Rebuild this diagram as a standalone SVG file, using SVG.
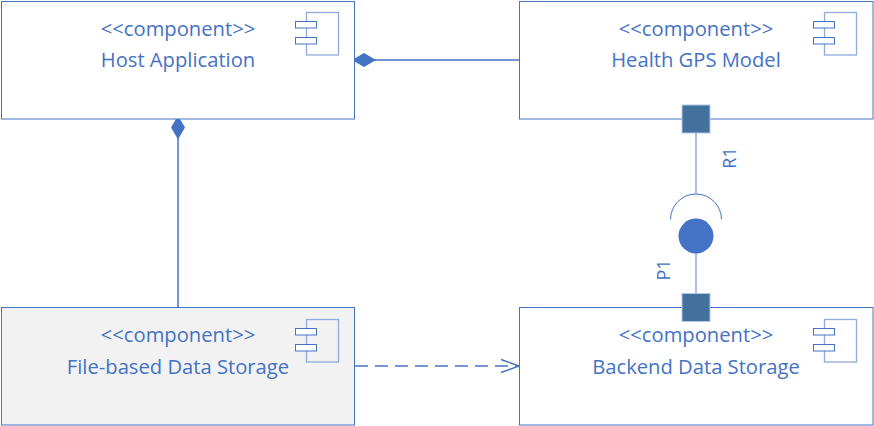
<svg xmlns="http://www.w3.org/2000/svg" width="874" height="426" viewBox="0 0 874 426">
<style>
text{font-family:"Open Sans","Noto Sans","Liberation Sans",sans-serif;font-size:20.2px;fill:#4472c4;text-anchor:middle}
.box{fill:#fff;stroke:#4472c4;stroke-width:1}
.gray{fill:#f2f2f2}
.icon{fill:none;stroke:#8faadc;stroke-width:1.3}
.tab{fill:#fff;stroke:#4472c4;stroke-width:1}
.line{fill:none;stroke:#4472c4;stroke-width:1.5}
.thin{fill:none;stroke:#8faadc;stroke-width:1.5}
.port{fill:#41719c;stroke:#b4c7e7;stroke-width:1}
.small{font-size:18px}
</style>
<defs>
<g id="icon">
<rect class="icon" x="306.5" y="12.5" width="32" height="42.5"/>
<rect class="tab" x="295.5" y="21.5" width="21" height="6.5"/>
<rect class="tab" x="295.5" y="37.5" width="21" height="6.5"/>
</g>
</defs>
<g id="connectors">
<path class="line" d="M373 60H519.5"/>
<polygon points="352,60 364,53 376,60 364,67" fill="#4472c4"/>
<path class="line" d="M178 138V307"/>
<polygon points="178,115.500 185,127.500 178,139.500 171,127.500" fill="#4472c4"/>
<path class="line" stroke-dasharray="13 7" d="M355 366H517"/>
<path class="line" d="M501 359.500L519 366L501 372.500"/>
<path class="thin" d="M696 132V193.500"/>
<path class="thin" d="M696 253V294"/>
<path fill="none" stroke="#4472c4" stroke-width="1" d="M670.500 219.500A25.500 25.500 0 0 1 721.500 219.500"/>
</g>
<g id="host-application">
<rect class="box" x="1.500" y="1.500" width="353" height="117.500"/>
<use href="#icon"/>
<text x="178" y="35.500">&lt;&lt;component&gt;&gt;</text>
<text x="178" y="66.500">Host Application</text>
</g>
<g id="health-gps-model">
<rect class="box" x="519.500" y="1.500" width="353.500" height="117.500"/>
<use href="#icon" x="518"/>
<text x="696" y="35.500">&lt;&lt;component&gt;&gt;</text>
<text x="696" y="66.500">Health GPS Model</text>
</g>
<g id="file-based-data-storage">
<rect class="box gray" x="1.500" y="307.500" width="353" height="117.500"/>
<use href="#icon" y="307"/>
<text x="178" y="342">&lt;&lt;component&gt;&gt;</text>
<text x="178" y="373.500">File-based Data Storage</text>
</g>
<g id="backend-data-storage">
<rect class="box" x="519.500" y="307.500" width="353.500" height="117.500"/>
<use href="#icon" x="518" y="307"/>
<text x="696" y="342">&lt;&lt;component&gt;&gt;</text>
<text x="696" y="373.500">Backend Data Storage</text>
</g>
<g id="port-r1">
<rect class="port" x="682" y="105" width="28" height="28"/>
<text class="small" transform="translate(736 158) rotate(-90)">R1</text>
</g>
<g id="port-p1">
<rect class="port" x="682" y="293.500" width="28" height="28"/>
<text class="small" transform="translate(670 270) rotate(-90)">P1</text>
<circle cx="696" cy="236" r="17.500" fill="#4472c4"/>
</g>
</svg>
